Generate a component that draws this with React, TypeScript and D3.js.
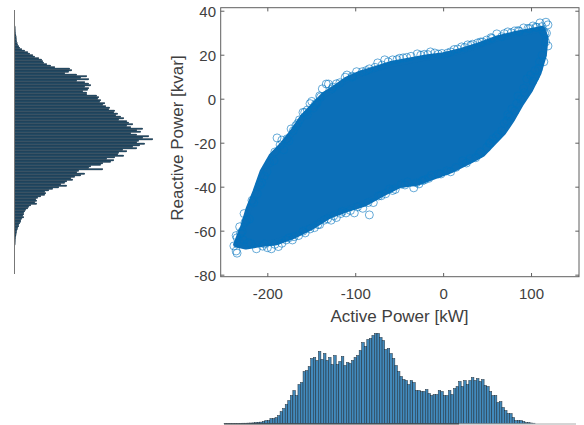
import React from "react";
import * as d3 from "d3";

const xTicks = [-200, -100, 0, 100];
const yTicks = [40, 20, 0, -20, -40, -60, -80];

// Dense body of the cloud (active kW, reactive kvar)
const bodyActive = [-236,-228,-222,-214,-206,-196,-184,-172,-160,-148,-136,-124,-110,-96,-80,-60,-40,-20,0,20,40,60,80,100,112,116,114,108,98,88,78,68,56,44,30,10,-10,-30,-50,-70,-90,-110,-130,-150,-170,-190,-210,-225];
const bodyReactive = [-66,-58,-50,-42,-33,-26,-21,-15,-8,-3,2,5,9,11.5,13.5,16,17.5,19,20,22,24.5,27.5,29.5,31,32,28,20,12,4,-2,-9,-15,-20,-25,-28,-32,-35,-38,-39,-43,-47.5,-50,-53,-58,-62,-65,-66,-67];

// Individually visible samples on the rim of the cloud
const rimActive = [-189.5,-184,-186,-173.5,-171,-164,-155,-155,-148,-144,-138,-133.5,-131,-127,-112,-110,-99,-92.5,-84.5,-67,-58,-30,-15,-10,4.6,20.5,27.4,38.8,49,60.5,73,81,91,101.6,109.6,116.4,118.7,115,118.7,114,101.6,94.7,84.5,81,77.6,71.9,66,56,49,36.5,21.7,3.4,-21.7,-24,-34,-41,-61.6,-71,-84.5,-101.6,-111,-122,-132,-147,-157.5,-179,-188,-196,-200.5,-213,-235,-238.6,-236,-235,-231,-227,-221,-212,-209,
-75,-50,-42,-22,-2,12,33,44,55,66,86,96,106,112,117,116,112,108,104,92,88,75,62,52,42,30,14,-6,-14,-31,-48,-55,-66,-80,-92,-106,-117,-128,-141,-152,-165,-172,-184,-192,-206,-219,-228,-232,-226,-218,-204,-198,-192,-178,-166,-160,-150,-141,-122,-104,
-236,-232,-229,-224,-216,-207,-201,-193,-182,-176,-168,-158,-152,-146,-140,-126,-118,-104,-88,-78,-70,-63,-53,-46,-37,-26,-18,-6,8,16,24,31,42,54,69,77,85,98,105,113,109,104,99,91,83,73,69,60,53,40,26,8,-3,-17,-28,-44,-58,-74,-86,-98,-115,-125,-136,-143,-160,-170,-176,-204,-222];
const rimReactive = [-17.6,-18.6,-20.8,-13.5,-14.4,-9.4,-4.9,-7,-4,-1.7,4.7,6.9,6.9,4.7,10,11,12.5,12.5,13.8,17.9,17.9,20.6,21.5,21,21,23.8,24.7,25.6,26.9,29.7,30.6,31,32.4,33.3,34.7,35,33.8,29.8,24.2,17,8.3,9.2,1.5,-5.3,-4.4,-9.9,-14.4,-18,-22,-26.6,-28,-32.6,-36.7,-37,-40.3,-37.6,-40.8,-43.9,-52.6,-51.7,-51.7,-53.8,-54.4,-58.4,-60.8,-64,-67,-68,-67.5,-68,-70,-66.7,-69,-63,-61,-52,-54.5,-43,-39,
16.5,18.6,19,20.4,20.8,22.6,25,26,27.6,28.4,30.8,32.2,32.6,33,30,26,20,14,10,3,0,-8,-16,-20,-24,-27,-31,-34,-34.6,-38,-38.6,-41,-43,-47,-49.6,-50.6,-52,-55,-57,-59,-62,-64,-65.5,-66,-66.8,-65.6,-64,-58,-56,-46,-35,-29,-24,-18,-11,-6,-1,1.5,7,10,
-62,-65,-60,-55,-47,-38,-33,-28,-23,-19,-12,-6,-2,-2.5,1,5.5,7.5,10.5,13,14.5,15.5,17,18,18.8,19.5,20,20.3,20.5,21.5,22.8,23.5,24.5,26,28,29.8,30.2,31.2,32,32.8,31,17,13,11,5,-2,-7,-11,-17,-20,-25,-29,-33,-34,-36,-38.5,-39,-41.5,-44,-47,-49,-51,-53,-55,-57,-60,-62.5,-63,-65.8,-65.2];

// Histogram of active power (counts per bin, left to right)
const activeCounts = [0.3,0.3,0.3,0.3,0.3,0.3,0.3,0.4,0.4,0.5,0.6,0.7,1,1.2,1.5,2,3,3,5,5,6,8,12,15,19,23,28,33,28,39,41,52,53,57,65,66,63,72,64,70,63,66,59,68,59,62,67,58,61,60,63,66,68,73,81,77,84,85,88,90,90,86,83,74,75,70,65,58,52,47,44,43,39,43,41,33,33,32,32,34,30,28,29,29,33,32,28,28,33,29,35,37,42,37,43,39,43,46,43,45,42,44,38,37,32,28,28,21,22,16,13,10,10,6,3,3,3,2,1,1,0.6,0.4];

// Histogram of reactive power (counts per bin, top to bottom)
const reactiveCounts = [0.3,0.4,0.5,0.6,0.8,1,1.2,1.4,1.6,1.8,2,2.4,3,4,5,7,10,13,15,18,20,24,27,28,29,32,36,40,55,57,54,50,62,72,66,74,62,70,74,76,70,74,73,68,72,72,82,84,83,86,85,90,88,91,95,94,100,99,103,101,106,109,104,112,114,118,112,116,128,122,126,116,122,134,128,138,124,122,130,125,118,122,108,112,104,103,109,100,92,99,96,88,86,76,74,88,64,62,70,66,60,56,58,52,50,46,52,44,38,34,30,31,30,26,23,21,22,20,22,16,14,13,11,10,9,9,8,9,7,6,6,5,4,4,3,2.5,2,1.8,1.4,1.2,1,0.8,0.6,0.5,0.4,0.3];

const X = d3.scaleLinear().domain([-253.6, 154]).range([220.7, 579]);
const Y = d3.scaleLinear().domain([41.6, -80.7]).range([7.7, 276.7]);
const botX = d3.scaleBand<number>().domain(d3.range(activeCounts.length)).range([224, 224 + activeCounts.length * 2.55]);
const botY = d3.scaleLinear().domain([0, 90]).range([423.6, 333.5]);
const leftY = d3.scaleBand<number>().domain(d3.range(reactiveCounts.length)).range([26, 26 + reactiveCounts.length * 1.5]);
const leftX = d3.scaleLinear().domain([0, 139]).range([14.8, 153.8]);

const axisColor = "#5f5f5f";
const textColor = "#404040";
const blue = "#0b6fb8";
const font = "'Liberation Sans', Arial, sans-serif";

export default function App() {
  const body = d3.line()(bodyActive.map((a, i) => [X(a), Y(bodyReactive[i])] as [number, number])) + "Z";
  return (
    <svg width={584} height={425} style={{ position: "absolute", left: 0, top: 0, background: "#fff" }} fontFamily={font}>
      {/* left histogram */}
      <g>
        {reactiveCounts.map((c, i) => (
          <rect key={i} x={leftX(0)} y={leftY(i)} width={leftX(c) - leftX(0)} height={leftY.bandwidth()}
            fill="#26506c" stroke="#14242e" strokeWidth={0.3} />
        ))}
        <line x1={14.5} x2={14.5} y1={10} y2={274} stroke="#777" strokeWidth={1} />
      </g>
      {/* scatter */}
      <path d={body} fill={blue} stroke={blue} strokeWidth={6} strokeLinejoin="round" />
      {rimActive.map((a, i) => (
        <circle key={i} cx={X(a)} cy={Y(rimReactive[i])} r={4} fill="none" stroke="#0072BD" strokeOpacity={0.75} strokeWidth={0.8} />
      ))}
      {/* axes box */}
      <rect x={220.7} y={7.7} width={358.3} height={269} fill="none" stroke={axisColor} strokeWidth={1} />
      {xTicks.map(t => (
        <g key={t}>
          <line x1={X(t)} x2={X(t)} y1={276.7} y2={273} stroke={axisColor} />
          <line x1={X(t)} x2={X(t)} y1={7.7} y2={11.4} stroke={axisColor} />
          <text x={X(t)} y={299} textAnchor="middle" fontSize={15} fill={textColor}>{t}</text>
        </g>
      ))}
      {yTicks.map(t => (
        <g key={t}>
          <line x1={220.7} x2={224.4} y1={Y(t)} y2={Y(t)} stroke={axisColor} />
          <line x1={579} x2={575.3} y1={Y(t)} y2={Y(t)} stroke={axisColor} />
          <text x={216} y={Y(t) + 5.5} textAnchor="end" fontSize={15} fill={textColor}>{t}</text>
        </g>
      ))}
      <text x={399.5} y={322} textAnchor="middle" fontSize={17} fill={textColor}>Active Power [kW]</text>
      <text transform="translate(183,138) rotate(-90)" textAnchor="middle" fontSize={17} fill={textColor}>Reactive Power [kvar]</text>
      {/* bottom histogram */}
      <g>
        {activeCounts.map((c, i) => (
          <rect key={i} x={botX(i)} y={botY(c)} width={botX.bandwidth()} height={botY(0) - botY(c)}
            fill="#4289bb" stroke="#1c2c38" strokeWidth={0.5} />
        ))}
        <line x1={224} x2={459} y1={424} y2={424} stroke="#333" strokeWidth={1} />
        <line x1={459} x2={576} y1={424} y2={424} stroke="#aaa" strokeWidth={1} />
      </g>
    </svg>
  );
}
